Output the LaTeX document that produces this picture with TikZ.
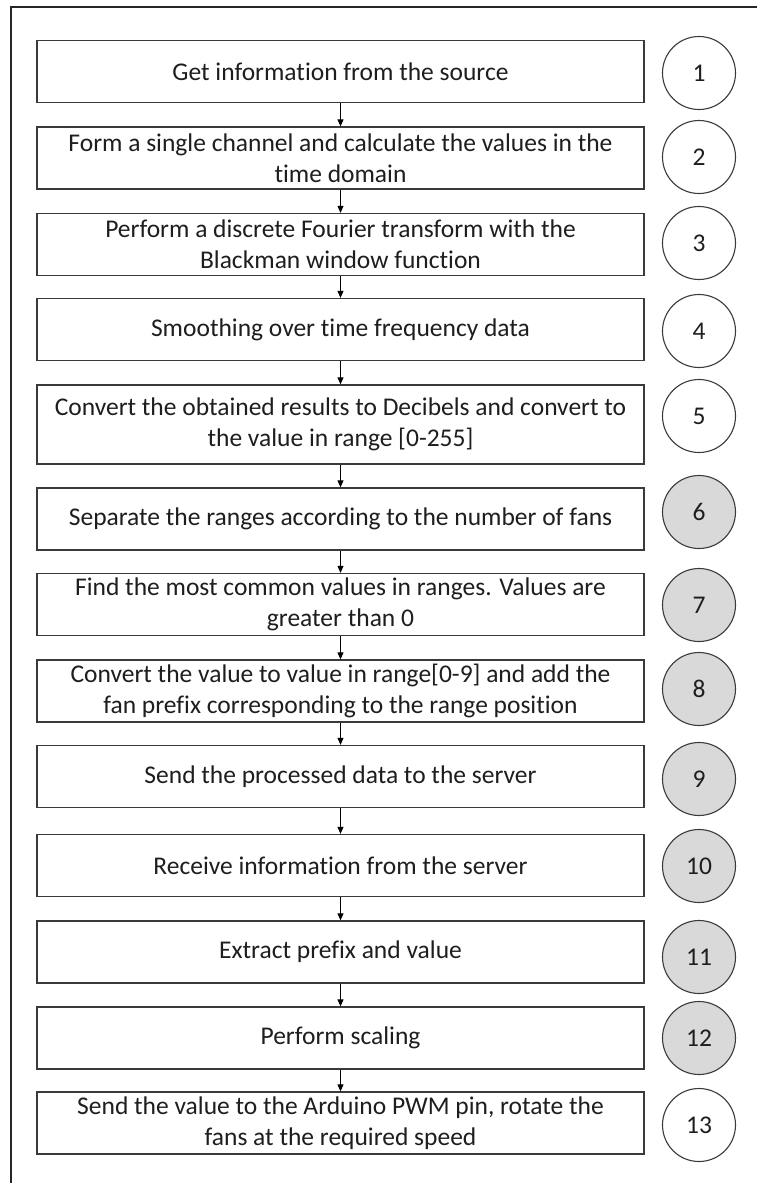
\documentclass[tikz,border=0pt]{standalone}
\usepackage{fontspec}
\setmainfont{Carlito}[Ligatures={NoCommon}]
\usetikzlibrary{arrows.meta}
\definecolor{edge}{HTML}{3A3A3A}
\definecolor{stepgray}{HTML}{D9D9D9}
\definecolor{txt}{HTML}{1E1E1E}
\tikzset{
  stepbox/.style={draw=edge, line width=1.3pt, fill=white, minimum width=607pt, minimum height=62pt,
    inner sep=0pt, align=center, text=txt, font=\fontsize{25.5}{31}\selectfont},
  numcirc/.style={circle, draw=edge, line width=1.1pt, fill=white, minimum size=73pt, inner sep=0pt,
    text=txt, font=\fontsize{25.5}{31}\selectfont},
  graycirc/.style={numcirc, fill=stepgray},
  flow/.style={draw=black, line width=1pt, -{Triangle[length=7pt,width=6pt]}}
}
\begin{document}
\begin{tikzpicture}[x=1pt,y=-1pt]
\useasboundingbox (0,0) rectangle (757,1183);
\draw[line width=2pt, black!85] (11,1183) -- (11,7) -- (757,7);

\node[stepbox] (b1) at (340.5,71.5) {Get information from the source};
\node[stepbox] (b2) at (340.5,158) {Form a single channel and calculate the values in the\\time domain};
\node[stepbox] (b3) at (340.5,244.5) {Perform a discrete Fourier transform with the\\Blackman window function};
\node[stepbox] (b4) at (340.5,329.5) {Smoothing over time frequency data};
\node[stepbox, minimum height=79pt] (b5) at (340.5,424.5) {Convert the obtained results to Decibels and convert to\\the value in range [0-255]};
\node[stepbox] (b6) at (340.5,519) {Separate the ranges according to the number of fans};
\node[stepbox] (b7) at (340.5,604.5) {Find the most common values in ranges. Values are\\greater than 0};
\node[stepbox] (b8) at (340.5,691) {Convert the value to value in range[0-9] and add the\\fan prefix corresponding to the range position};
\node[stepbox] (b9) at (340.5,776.5) {Send the processed data to the server};
\node[stepbox] (b10) at (340.5,865.5) {Receive information from the server};
\node[stepbox] (b11) at (340.5,952) {Extract prefix and value};
\node[stepbox] (b12) at (340.5,1038) {Perform scaling};
\node[stepbox] (b13) at (340.5,1123) {Send the value to the Arduino PWM pin, rotate the\\fans at the required speed};

\node[numcirc] (c1) at (699,73) {1};
\node[numcirc] (c2) at (699,157) {2};
\node[numcirc] (c3) at (699,243) {3};
\node[numcirc] (c4) at (699,331) {4};
\node[numcirc] (c5) at (699,416) {5};
\node[graycirc] (c6) at (699,512) {6};
\node[graycirc] (c7) at (699,605) {7};
\node[graycirc] (c8) at (699,689) {8};
\node[graycirc] (c9) at (699,779) {9};
\node[graycirc] (c10) at (699,866) {10};
\node[graycirc] (c11) at (699,957) {11};
\node[graycirc] (c12) at (699,1038) {12};
\node[numcirc] (c13) at (699,1125) {13};

\foreach \a/\b in {b1/b2,b2/b3,b3/b4,b4/b5,b5/b6,b6/b7,b7/b8,b8/b9,b9/b10,b10/b11,b11/b12,b12/b13}
  \draw[flow] (\a.south) -- (\b.north);
\end{tikzpicture}
\end{document}
